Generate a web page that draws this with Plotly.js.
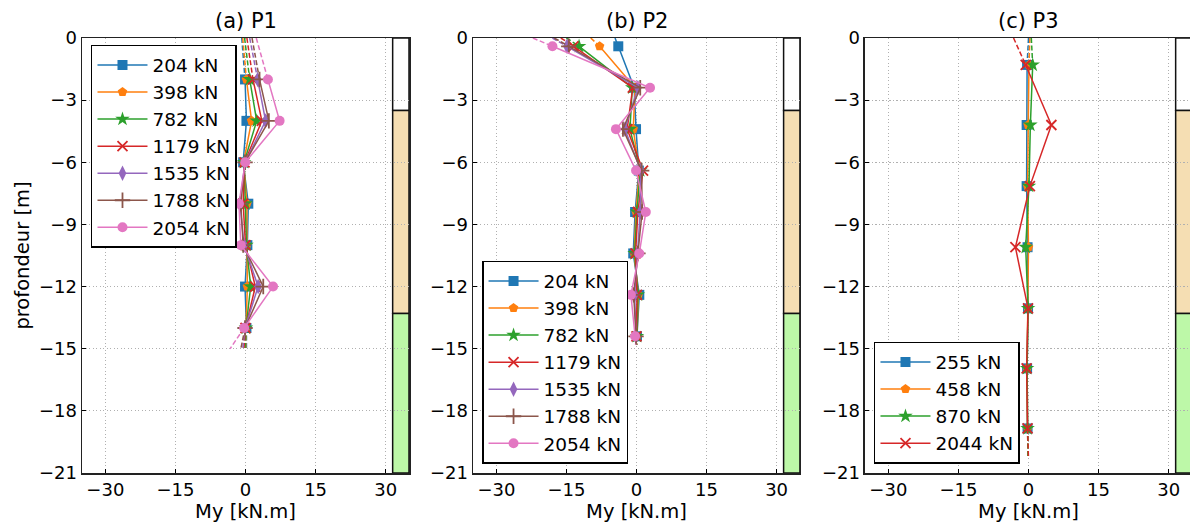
<!DOCTYPE html>
<html>
<head>
<meta charset="utf-8">
<script src="https://cdn.plot.ly/plotly-3.0.1.min.js"></script>
<style>html,body{margin:0;padding:0;overflow:hidden;background:#fff;}</style>
</head>
<body>
<div id="chart"></div>
<script>
// ---------- data ----------
const colors = ['#1f77b4','#ff7f0e','#2ca02c','#d62728','#9467bd','#8c564b','#e377c2'];
const symbolsP12 = ['square','pentagon','star','x-thin','diamond-tall','cross-thin','circle'];
const loadsP12 = ['204 kN','398 kN','782 kN','1179 kN','1535 kN','1788 kN','2054 kN'];
const loadsP3 = ['255 kN','458 kN','870 kN','2044 kN'];

// P1
const depthP1 = [-2, -4, -6, -8, -10, -12, -14];
const p1_204  = [-0.1, 0.2, -0.5, 0.6, 0.4, -0.1, 0.2];
const p1_398  = [0.2, 1.3, -0.4, 0.3, 0.3, 0.4, 0.1];
const p1_782  = [0.9, 2.4, -0.3, 0.0, 0.2, 1.1, 0.1];
const p1_1179 = [1.6, 3.5, -0.2, -0.5, 0.0, 2.1, 0.0];
const p1_1535 = [2.6, 4.3, -0.1, -1.2, -0.3, 2.7, -0.1];
const p1_1788 = [3.0, 5.0, -0.1, -1.0, -0.5, 3.8, -0.1];
const p1_2054 = [4.8, 7.3, -0.05, -1.4, -1.0, 5.9, -0.3];
const p1TopDepth = 0, p1BottomDepth = -15;
const p1Top    = [-0.8, -0.6, -0.2, 0.3, 0.9, 1.4, 2.3];
const p1Bottom = [0.2, 0.05, -0.1, -0.35, -0.6, -1.0, -3.3];

// P2
const depthP2 = [-0.4, -2.4, -4.4, -6.4, -8.4, -10.4, -12.4, -14.4];
const p2_204  = [-3.9, -0.5, -0.1, 0.5, -0.3, -0.7, 0.6, 0.1];
const p2_398  = [-7.9, -0.3, -0.7, 0.6, -0.1, -0.5, 0.4, 0.1];
const p2_782  = [-12.3, -0.9, -1.4, 0.8, 0.1, -0.4, 0.3, 0.1];
const p2_1179 = [-13.5, -0.8, -2.0, 1.4, 0.3, -0.2, 0.1, 0.0];
const p2_1535 = [-14.9, 0.3, -2.5, 0.9, 0.8, 0.2, -0.4, -0.1];
const p2_1788 = [-14.5, 0.8, -2.9, 1.1, 1.2, 0.3, -0.6, -0.1];
const p2_2054 = [-18.0, 2.9, -4.4, -0.1, 2.0, 0.6, -1.2, -0.3];
const p2TopDepth = 0, p2BottomDepth = -14.8;
const p2Top    = [-4.6, -9.8, -15.0, -16.2, -18.0, -17.6, -22.2];
const p2Bottom = [0.1, 0.1, 0.1, 0.0, -0.1, -0.1, -0.2];

// P3
const depthP3 = [-1.3, -4.2, -7.15, -10.1, -13.05, -15.95, -18.85];
const p3_255  = [-0.3, -0.4, -0.4, -0.2, -0.1, -0.3, -0.2];
const p3_458  = [0.1, -0.1, -0.2, 0.0, -0.1, -0.3, -0.2];
const p3_870  = [0.9, 0.4, 0.1, -0.6, -0.1, -0.3, -0.2];
const p3_2044 = [-0.6, 4.9, 0.3, -2.8, -0.1, -0.4, -0.2];
const p3TopDepth = 0, p3BottomDepth = -20.3;
const p3Top    = [0.0, 0.3, 0.6, -3.2];
const p3Bottom = [-0.1, -0.1, -0.1, 0.0];

// soil layers
const layerTops    = [0, -3.5, -13.3];
const layerBottoms = [-3.5, -13.3, -21];
const layerColors  = ['#ffffff', '#f5deb3', '#bdf8a8'];

const xTicks = [-30, -15, 0, 15, 30];
const yTicks = [0, -3, -6, -9, -12, -15, -18, -21];
const panelTitles = ['(a) P1', '(b) P2', '(c) P3'];

// ---------- build ----------
const traces = [];
function addPanel(series, depths, topD, top, botD, bot, labels, ax, legendName) {
  series.forEach((vals, i) => {
    const c = colors[i];
    const sym = symbolsP12[i];
    const thin = sym.indexOf('thin') >= 0;
    const xa = 'x' + (ax === 1 ? '' : ax), ya = 'y' + (ax === 1 ? '' : ax);
    traces.push({x: [top[i], vals[0]], y: [topD, depths[0]], xaxis: xa, yaxis: ya,
      mode: 'lines', line: {color: c, width: 1.5, dash: '5px,2.5px'}, showlegend: false, hoverinfo: 'skip'});
    traces.push({x: [vals[vals.length-1], bot[i]], y: [depths[depths.length-1], botD], xaxis: xa, yaxis: ya,
      mode: 'lines', line: {color: c, width: 1.5, dash: '5px,2.5px'}, showlegend: false, hoverinfo: 'skip'});
    traces.push({x: vals, y: depths, xaxis: xa, yaxis: ya, name: labels[i], legend: legendName,
      mode: 'lines+markers', line: {color: c, width: 1.5},
      marker: {symbol: sym, color: c, size: (sym === 'star' || sym === 'diamond-tall' || sym === 'cross-thin') ? 11 : 10,
               line: {color: c, width: thin ? 1.8 : 0}}});
  });
}
addPanel([p1_204, p1_398, p1_782, p1_1179, p1_1535, p1_1788, p1_2054], depthP1, p1TopDepth, p1Top, p1BottomDepth, p1Bottom, loadsP12, 1, 'legend');
addPanel([p2_204, p2_398, p2_782, p2_1179, p2_1535, p2_1788, p2_2054], depthP2, p2TopDepth, p2Top, p2BottomDepth, p2Bottom, loadsP12, 2, 'legend2');
addPanel([p3_255, p3_458, p3_870, p3_2044], depthP3, p3TopDepth, p3Top, p3BottomDepth, p3Bottom, loadsP3, 3, 'legend3');

const W = 1192, H = 526;
const domains = [[0, 0.2946], [0.3523, 0.6468], [0.7054, 1]];

function xax(d) {
  return {domain: d, range: [-35, 35], tickvals: xTicks, ticks: 'inside', ticklen: 4, tickcolor: '#000',
    showline: true, linecolor: '#222', linewidth: 1.5, mirror: true,
    showgrid: true, gridcolor: '#b0b0b0', griddash: '1.2px,2.3px', gridwidth: 1, zeroline: false,
    tickfont: {size: 18}, title: {text: 'My [kN.m]', font: {size: 19.5}, standoff: 5}};
}
function yax(anchor, withTitle) {
  const o = {range: [-21, 0], tickvals: yTicks, ticks: 'inside', ticklen: 4, tickcolor: '#000', anchor: anchor,
    showline: true, linecolor: '#222', linewidth: 1.5, mirror: true,
    showgrid: true, gridcolor: '#b0b0b0', griddash: '1.2px,2.3px', gridwidth: 1, zeroline: false,
    tickfont: {size: 18}};
  if (withTitle) o.title = {text: 'profondeur [m]', font: {size: 19.5}, standoff: 4};
  return o;
}

const shapes = [];
['x', 'x2', 'x3'].forEach((xr, k) => {
  const yr = k === 0 ? 'y' : 'y' + (k + 1);
  layerTops.forEach((t, j) => {
    shapes.push({type: 'rect', xref: xr, yref: yr, x0: 31.5, x1: 35, y0: t, y1: layerBottoms[j],
      fillcolor: layerColors[j], line: {color: '#111', width: 1.5}, layer: 'below'});
  });
});

const annotations = panelTitles.map((t, k) => ({
  text: t, xref: 'paper', yref: 'paper', x: (domains[k][0] + domains[k][1]) / 2, y: 1 + 17 / 435,
  xanchor: 'center', yanchor: 'middle', showarrow: false, font: {size: 21}
}));

const legendBase = {bordercolor: '#000', borderwidth: 1.5, bgcolor: '#fff', font: {size: 18.5}, xanchor: 'left', itemwidth: 50};

const layout = {
  width: W, height: H,
  margin: {l: 82, r: 0, t: 38, b: 53},
  paper_bgcolor: '#fff', plot_bgcolor: '#fff',
  font: {family: 'DejaVu Sans', size: 18, color: '#000'},
  showlegend: true,
  xaxis: Object.assign(xax(domains[0]), {anchor: 'y'}),
  xaxis2: Object.assign(xax(domains[1]), {anchor: 'y2'}),
  xaxis3: Object.assign(xax(domains[2]), {anchor: 'y3'}),
  yaxis: yax('x', true),
  yaxis2: yax('x2', false),
  yaxis3: yax('x3', false),
  legend: Object.assign({}, legendBase, {x: 0.0081, y: 0.984, yanchor: 'top'}),
  legend2: Object.assign({}, legendBase, {x: 0.3604, y: 0.0207, yanchor: 'bottom'}),
  legend3: Object.assign({}, legendBase, {x: 0.7135, y: 0.0207, yanchor: 'bottom'}),
  shapes: shapes,
  annotations: annotations
};

Plotly.newPlot('chart', traces, layout, {staticPlot: true, displayModeBar: false});
</script>
</body>
</html>
